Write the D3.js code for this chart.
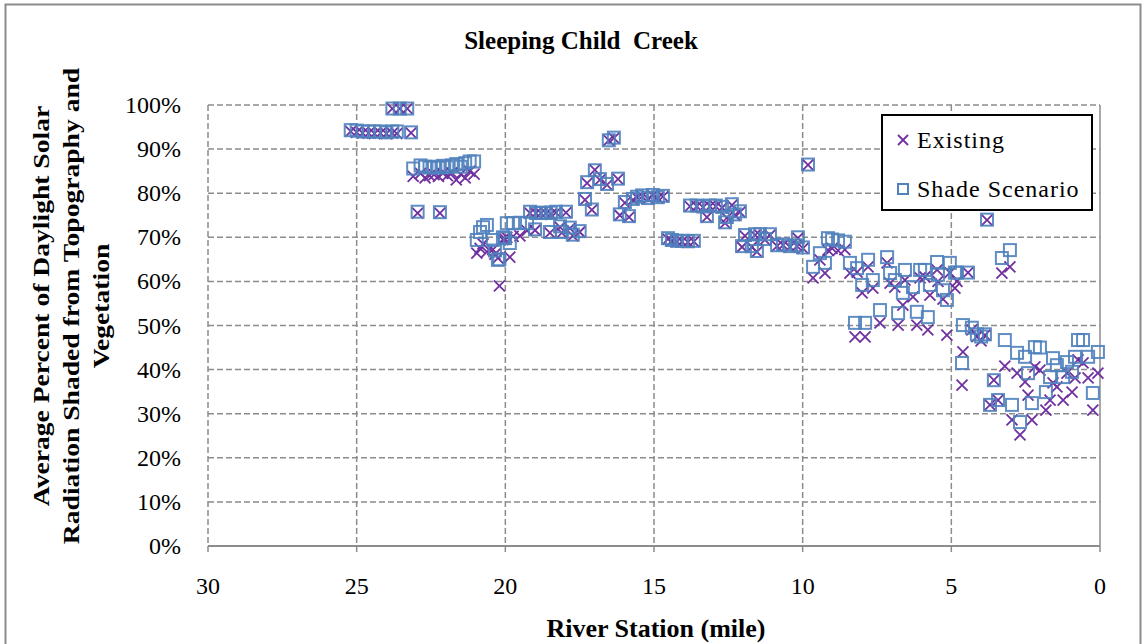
<!DOCTYPE html>
<html>
<head>
<meta charset="utf-8">
<script src="https://cdn.jsdelivr.net/npm/d3@7"></script>
<style>
  body { margin: 0; background: #fff; }
  text { font-family: "Liberation Serif", "Times New Roman", serif; fill: #000; white-space: pre; }
</style>
</head>
<body>
<div id="chart"></div>
<script>
// river station (mile) for each sample point
const miles = [
  25.2, 25.0, 24.8, 24.6, 24.4, 24.2, 24.0, 23.8, 23.65, 23.8, 23.55, 23.3, 23.17,
  23.1, 22.85, 22.7, 22.55, 22.4, 22.25, 22.1, 21.95, 21.8, 21.65, 21.5, 21.35, 21.2, 21.05, 22.95, 22.2,
  20.96, 20.85, 20.75, 20.62, 20.42, 20.35, 20.25, 20.2, 20.08, 20.01, 19.85, 19.95, 19.74, 19.51, 19.27,
  19.17, 19.0, 18.97, 18.8, 18.63, 18.5, 18.47, 18.3, 18.16, 18.1, 17.96, 17.83, 17.73, 17.5,
  17.32, 17.25, 17.09, 16.99, 16.82, 16.58, 16.52, 16.35, 16.21, 16.15, 15.98, 15.84, 15.71,
  15.57, 15.4, 15.2, 15.04, 14.87, 14.7,
  14.53, 14.4, 14.23, 14.06, 13.86, 13.66,
  13.79, 13.56, 13.35, 13.22, 13.12, 12.92, 12.71, 12.61, 12.55, 12.38, 12.28, 12.11,
  12.04, 11.94, 11.71, 11.6, 11.54, 11.44, 11.27, 11.1, 10.86, 10.66, 10.43, 10.19, 10.16, 9.99,
  9.82, 9.65, 9.42, 9.25, 9.15, 9.01, 8.81, 8.58, 8.41, 8.24, 8.17, 8.0, 7.9, 7.8, 7.64, 7.4,
  7.16, 7.06, 6.9, 6.79, 6.63, 6.56, 6.29, 6.16, 6.05, 5.89, 5.79, 5.72, 5.48, 5.45, 5.28, 5.15,
  5.05, 4.88, 4.81, 4.61, 4.64, 4.44, 4.31, 4.14, 4.0, 3.87, 3.8, 3.7, 3.57, 3.43, 3.3, 3.2,
  3.03, 2.96, 2.79, 2.69, 2.52, 2.42, 2.29, 2.19, 2.02, 1.82, 1.68, 1.58, 1.45, 1.24, 1.11,
  0.94, 0.84, 0.74, 0.57, 0.4, 0.24, 0.07
];

// existing condition (% shaded)
const existing = [
  94, 93.8, 93.6, 93.6, 93.5, 93.6, 93.5, 93.6, 93.5, 99.2, 99.2, 99.2, 93.7,
  83.8, 84.5, 83.5, 84, 84.2, 83.8, 84.5, 84, 84.6, 83, 84.3, 83.5, 85, 84.3, 75.5, 75.5,
  66.4, 67.5, 68.5, 66.7, 67.2, 66.2, 65.3, 59, 69.5, 69.6, 65.5, 70, 70.2, 70.3, 71.5,
  75.5, 71.6, 75.5, 75.4, 75.5, 71, 75.2, 75.6, 72.3, 71, 75.6, 72, 70.3, 71.2,
  78.5, 82.3, 76.2, 85.3, 83, 81.9, 92, 92.5, 83.2, 75, 77.8, 74.6, 78.5,
  79, 79.3, 78.7, 79.5, 78.9, 79.2,
  69.6, 69.2, 69, 69, 68.9, 69,
  77, 77, 76.8, 74.6, 77, 77, 76.7, 73.2, 74.4, 77.3, 75, 75.7,
  67.8, 70.3, 67.8, 70.5, 66.7, 70.5, 69.4, 70.5, 68, 68.2, 67.8, 68, 69.8, 67.5,
  86.4, 60.8, 64.9, 61.9, 67.1, 67.5, 67, 67.2, 61.9, 47.4, 62.1, 57.4, 47.4, 63.3, 58.5, 50.6,
  64.2, 59.6, 58.7, 50.1, 54.6, 60.3, 56.5, 50.1, 60.8, 61, 49, 56.9, 62.6, 60, 56, 47.8,
  62, 58.5, 60, 44, 36.5, 62, 49, 47.5, 46.5, 47.8, 73.9, 32, 37.6, 33.1, 61.9, 40.8,
  63.3, 28.6, 39.2, 25.2, 37.2, 34.2, 28.6, 40.6, 39.9, 30.8, 33.1, 37, 36.1, 33.1, 39.2,
  34.9, 38.1, 42.2, 41.5, 38.1, 30.8, 39.2
];

// shade scenario (% shaded)
const shade = [
  94.3, 94.2, 94, 94, 94, 94, 93.8, 94, 94, 99.2, 99.2, 99.2, 93.8,
  85.6, 86.3, 86, 85.8, 86, 85.8, 86.2, 85.9, 86.3, 86.6, 86, 86.8, 87.2, 87.2, 75.8, 75.7,
  69.4, 71.2, 72.3, 72.8, 69.4, 67, 64.9, 65, 70, 69.8, 68.7, 73.2, 73.2, 73.3, 73.2,
  75.8, 71.8, 75.5, 75.6, 75.5, 71.2, 75.6, 75.8, 72.5, 71.2, 75.8, 72.2, 70.6, 71.4,
  78.7, 82.5, 76.3, 85.2, 83.2, 82.1, 92, 92.6, 83.3, 75.2, 78, 74.8, 78.7,
  79.2, 79.5, 78.9, 79.6, 79.1, 79.4,
  69.8, 69.4, 69.2, 69.2, 69.1, 69.2,
  77.2, 77.2, 77, 74.8, 77.2, 77.2, 76.9, 73.4, 74.6, 77.5, 75.2, 75.9,
  68, 70.5, 68, 70.7, 66.9, 70.7, 69.6, 70.7, 68.2, 68.4, 68, 68.2, 70, 67.7,
  86.5, 63.3, 66.4, 64.2, 69.8, 69.5, 69.3, 69, 64.2, 50.6, 63, 59.2, 50.6, 64.9, 60.3, 53.5,
  65.5, 61.9, 60.3, 52.8, 57.4, 62.6, 58.7, 53.1, 62.6, 62.6, 51.9, 59.2, 64.4, 61.5, 58, 55.8,
  64.2, 62, 62, 50.1, 41.5, 62, 49.5, 48, 47.5, 48, 74, 32, 37.6, 33.1, 65.3, 46.7,
  67.1, 32, 43.8, 28.1, 42.9, 39.2, 32.4, 45.1, 45, 34.9, 38.3, 42.6, 41, 38.3, 41.7,
  39.5, 42.9, 46.7, 46.7, 42.9, 34.7, 44
];

const xTicks = [30, 25, 20, 15, 10, 5, 0];
const yTicks = [0, 0.1, 0.2, 0.3, 0.4, 0.5, 0.6, 0.7, 0.8, 0.9, 1.0];
const seriesNames = ["Existing", "Shade Scenario"];

const width = 1144, height = 644,
    margin = {top: 105, right: 44, bottom: 98, left: 208},
    purple = "#7030a0", blue = "#4f81bd", grid = "#8c8c8c";

const svg = d3.select("#chart").append("svg")
    .attr("width", width)
    .attr("height", height);

// outer chart border
svg.append("rect")
    .attr("x", 5.5).attr("y", 4.5)
    .attr("width", 1135).attr("height", 660)
    .attr("fill", "none")
    .attr("stroke", "#8c8c8c")
    .attr("stroke-width", 2);

const x = d3.scaleLinear()
    .domain([30, 0])
    .range([margin.left, width - margin.right]);

const y = d3.scaleLinear()
    .domain([0, 1])
    .range([height - margin.bottom, margin.top]);

// gridlines
svg.append("g").selectAll("line")
    .data(yTicks.slice(1))
    .join("line")
    .attr("x1", x(30)).attr("x2", x(0))
    .attr("y1", d => y(d)).attr("y2", d => y(d))
    .attr("stroke", grid)
    .attr("stroke-width", 1.5)
    .attr("stroke-dasharray", "6,3");

svg.append("g").selectAll("line")
    .data(xTicks)
    .join("line")
    .attr("x1", d => x(d)).attr("x2", d => x(d))
    .attr("y1", y(1)).attr("y2", y(0) + 6)
    .attr("stroke", grid)
    .attr("stroke-width", 1.5)
    .attr("stroke-dasharray", d => d === 0 ? null : "6,3");

// x axis line
svg.append("line")
    .attr("x1", x(30)).attr("x2", x(0))
    .attr("y1", y(0)).attr("y2", y(0))
    .attr("stroke", grid)
    .attr("stroke-width", 2);

// tick labels
svg.append("g").selectAll("text")
    .data(yTicks)
    .join("text")
    .attr("x", x(30) - 27)
    .attr("y", d => y(d) + 8)
    .attr("text-anchor", "end")
    .style("font-size", "24px")
    .text(d => d3.format(".0%")(d));

svg.append("g").selectAll("text")
    .data(xTicks)
    .join("text")
    .attr("x", d => x(d))
    .attr("y", y(0) + 48)
    .attr("text-anchor", "middle")
    .style("font-size", "24px")
    .text(d => d);

// titles
svg.append("text")
    .attr("x", 581).attr("y", 49)
    .attr("text-anchor", "middle")
    .style("font-size", "25px")
    .style("font-weight", "bold")
    .text("Sleeping Child  Creek");

svg.append("text")
    .attr("x", 656).attr("y", 637)
    .attr("text-anchor", "middle")
    .style("font-size", "26px")
    .style("font-weight", "bold")
    .text("River Station (mile)");

const yTitle = svg.append("text")
    .attr("transform", "translate(41,306) rotate(-90) scale(1.2,1)")
    .attr("text-anchor", "middle")
    .style("font-size", "23px")
    .style("font-weight", "bold");
["Average Percent of Daylight Solar",
 "Radiation Shaded from Topography and",
 "Vegetation"].forEach((t, i) => {
    yTitle.append("tspan")
        .attr("x", 0)
        .attr("dy", i === 0 ? 8 : 30)
        .text(t);
});

// marker shapes
const xMark = (cx, cy, r) => `M${cx - r},${cy - r}L${cx + r},${cy + r}M${cx - r},${cy + r}L${cx + r},${cy - r}`;

const points = miles.map((m, i) => ({mile: m, existing: existing[i] / 100, shade: shade[i] / 100}));

svg.append("g").selectAll("path")
    .data(points)
    .join("path")
    .attr("d", d => xMark(x(d.mile), y(d.existing), 5.5))
    .attr("stroke", purple)
    .attr("stroke-width", 1.8)
    .attr("fill", "none");

svg.append("g").selectAll("rect")
    .data(points)
    .join("rect")
    .attr("x", d => x(d.mile) - 6)
    .attr("y", d => y(d.shade) - 6)
    .attr("width", 12)
    .attr("height", 12)
    .attr("fill", "none")
    .attr("stroke", blue)
    .attr("stroke-width", 2)
    .attr("stroke-opacity", 0.9);

// legend
const legend = svg.append("g").attr("transform", "translate(882,115)");
legend.append("rect")
    .attr("width", 210).attr("height", 95)
    .attr("fill", "#fff")
    .attr("stroke", "#000")
    .attr("stroke-width", 2);
legend.append("path")
    .attr("d", xMark(21, 25, 5))
    .attr("stroke", purple).attr("stroke-width", 1.8);
legend.append("rect")
    .attr("x", 16).attr("y", 69).attr("width", 10).attr("height", 10)
    .attr("fill", "none").attr("stroke", blue).attr("stroke-width", 2);
legend.selectAll("text.lg")
    .data(seriesNames)
    .join("text")
    .attr("class", "lg")
    .attr("x", 35)
    .attr("y", (d, i) => 33 + i * 49)
    .style("font-size", "24px")
    .style("letter-spacing", "1px")
    .text(d => d);
</script>
</body>
</html>
